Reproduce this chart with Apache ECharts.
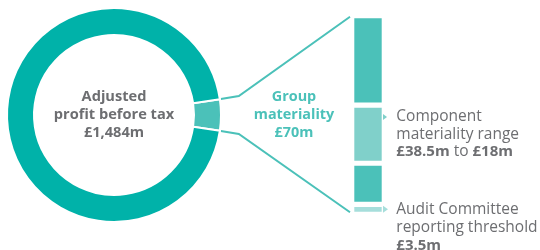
<!DOCTYPE html>
<html>
<head>
<meta charset="utf-8">
<script src="https://cdn.jsdelivr.net/npm/echarts@6/dist/echarts.min.js"></script>
<style>
html, body { margin: 0; padding: 0; background: #fff; }
#main { width: 540px; height: 250px; }
</style>
</head>
<body>
<div id="main"></div>
<script>
// adjusted profit before tax, split into group materiality and the rest (£m)
var profitTotal = 1484;
var pieNames = ['Group materiality', 'Rest of profit before tax'];
var pieValues = [70, 1414];

// group materiality broken down, stacked from the bottom (£m)
var barCategory = ['Group materiality'];
var barMax = 70;
var segmentNames = ['Audit Committee reporting threshold', 'Below component range', 'Component materiality range', 'Above component range'];
var segmentValues = [3.5, 14.5, 20.5, 31.5];

var centerLines = ['Adjusted', 'profit before tax', '£1,484m'];
var groupLines = ['Group', 'materiality', '£70m'];

var FONT = '"Open Sans", "Noto Sans", sans-serif';
var GREY = '#6d6e71';
var RING = '#00b2a9';
var TEAL = '#4bc1b9';
var segColors = ['#a6dedb', '#4bc1b9', '#80d0ca', '#4bc1b9'];

var sliceAngle = pieValues[0] / profitTotal * 360;
var center = [114, 115];

var myChart = echarts.init(document.getElementById('main'));

var txt = {
	t: { fontFamily: FONT, fontSize: 15.5, lineHeight: 17.8, color: GREY },
	b: { fontFamily: FONT, fontSize: 15, lineHeight: 17.8, color: GREY, fontWeight: 'bold' }
};

var series = [{
	type: 'pie',
	silent: true,
	center: center,
	radius: [80, 107],
	startAngle: sliceAngle / 2,
	clockwise: true,
	label: { show: false },
	labelLine: { show: false },
	itemStyle: { borderColor: '#fff', borderWidth: 2 },
	data: pieValues.map(function (v, i) {
		return { name: pieNames[i], value: v, itemStyle: { color: i === 0 ? TEAL : RING } };
	})
}];

segmentValues.forEach(function (v, i) {
	series.push({
		type: 'bar',
		name: segmentNames[i],
		stack: 'materiality',
		barWidth: '100%',
		silent: true,
		data: [v],
		itemStyle: { color: segColors[i], borderColor: '#fff', borderWidth: 2.6 }
	});
});

// labels and arrows
series[1].label = {
	show: true, position: 'right', distance: 12, offset: [0, 18.5],
	formatter: '{t|Audit Committee}\n{t|reporting threshold}\n{b|£3.5m}',
	rich: txt
};
series[1].markPoint = {
	silent: true, symbol: 'triangle', symbolRotate: -90, symbolSize: [7, 5], symbolOffset: [17.5, 0],
	itemStyle: { color: segColors[0] }, label: { show: false },
	data: [{ coord: [0, segmentValues[0] / 2] }]
};
series[3].label = {
	show: true, position: 'right', distance: 12,
	formatter: '{t|Component}\n{t|materiality range}\n{b|£38.5m}{t| to }{b|£18m}',
	rich: txt
};
series[3].markPoint = {
	silent: true, symbol: 'triangle', symbolRotate: -90, symbolSize: [6, 4], symbolOffset: [17, 12],
	itemStyle: { color: segColors[2] }, label: { show: false },
	data: [{ coord: [0, barMax - segmentValues[3]] }]
};

var option = {
	backgroundColor: '#fff',
	animation: false,
	grid: { left: 351.7, top: 15.7, width: 32.6, height: 198.6 },
	xAxis: { type: 'category', data: barCategory, show: false },
	yAxis: { type: 'value', min: 0, max: barMax, show: false },
	series: series,
	graphic: [{
		id: 'centerText',
		type: 'text',
		x: 114, y: 115,
		style: {
			text: centerLines.join('\n'),
			font: 'bold 14.6px ' + FONT,
			lineHeight: 18,
			fill: GREY,
			align: 'center',
			verticalAlign: 'middle'
		}
	}, {
		id: 'groupText',
		type: 'text',
		x: 294, y: 115,
		style: {
			text: groupLines.join('\n'),
			font: 'bold 14.4px ' + FONT,
			lineHeight: 18,
			fill: TEAL,
			align: 'center',
			verticalAlign: 'middle'
		}
	}]
};
myChart.setOption(option);

// connector lines from the slice edges to the bar
var a = sliceAngle / 2 * Math.PI / 180;
var r = 108;
var sx = center[0] + r * Math.cos(a);
var topStart = [sx, center[1] - r * Math.sin(a)];
var botStart = [sx, center[1] + r * Math.sin(a)];
var barTop = myChart.convertToPixel({ gridIndex: 0 }, [0, barMax]);
var barBot = myChart.convertToPixel({ gridIndex: 0 }, [0, 0]);
var endX = barTop[0] - 18;

myChart.setOption({
	graphic: [{
		id: 'lineTop',
		type: 'polyline',
		shape: { points: [topStart, [sx + 18, topStart[1] - 3], [endX, barTop[1] + 1]] },
		style: { stroke: TEAL, lineWidth: 2, fill: null }
	}, {
		id: 'lineBot',
		type: 'polyline',
		shape: { points: [botStart, [sx + 18, botStart[1] + 3], [endX, barBot[1] - 2]] },
		style: { stroke: TEAL, lineWidth: 2, fill: null }
	}]
});
</script>
</body>
</html>
